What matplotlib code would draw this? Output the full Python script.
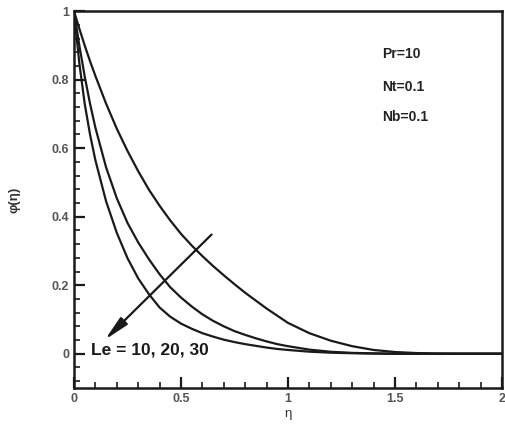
import numpy as np
from matplotlib import pyplot as plt
from matplotlib.ticker import MultipleLocator, FormatStrFormatter

plt.rcParams['font.family'] = ['Liberation Sans', 'DejaVu Sans']

# values
eta = [0, 0.025, 0.05, 0.075, 0.1, 0.15, 0.2, 0.25, 0.3, 0.35, 0.4, 0.45, 0.5, 0.55, 0.6,
       0.65, 0.7, 0.75, 0.8, 0.85, 0.9, 0.95, 1.0, 1.1, 1.2, 1.3, 1.4, 1.5, 1.6, 1.7, 1.8, 2.0]

phi_le10 = [1, 0.949, 0.900, 0.854, 0.811, 0.730, 0.657, 0.592, 0.533, 0.479, 0.432, 0.389,
            0.350, 0.316, 0.285, 0.256, 0.229, 0.203, 0.178, 0.155, 0.132, 0.111, 0.090,
            0.060, 0.038, 0.022, 0.011, 0.005, 0.002, 0.0005, 0, 0]

phi_le20 = [1, 0.900, 0.810, 0.730, 0.660, 0.544, 0.454, 0.382, 0.325, 0.276, 0.232, 0.194,
            0.164, 0.138, 0.115, 0.096, 0.080, 0.066, 0.055, 0.045, 0.036, 0.028, 0.022,
            0.012, 0.0057, 0.0025, 0.001, 0, 0, 0, 0, 0]

phi_le30 = [1, 0.848, 0.730, 0.640, 0.565, 0.445, 0.353, 0.279, 0.220, 0.174, 0.135, 0.108,
            0.088, 0.073, 0.060, 0.050, 0.041, 0.034, 0.028, 0.023, 0.018, 0.014, 0.011,
            0.006, 0.003, 0.0015, 0.0005, 0, 0, 0, 0, 0]

fig = plt.figure(figsize=(5.05, 4.29), dpi=100)
ax = fig.add_axes([0.1465, 0.0956, 0.8475, 0.8784])

for phi in [phi_le10, phi_le20, phi_le30]:
    ax.plot(eta, phi, color='#1a1a1a', lw=1.6)

ax.set_xlim(0, 2)
ax.set_ylim(-0.1, 1)
ax.xaxis.set_major_locator(MultipleLocator(0.5))
ax.xaxis.set_minor_locator(MultipleLocator(0.1))
ax.yaxis.set_major_locator(MultipleLocator(0.2))
ax.yaxis.set_minor_locator(MultipleLocator(0.04))
ax.xaxis.set_major_formatter(FormatStrFormatter('%g'))
ax.yaxis.set_major_formatter(FormatStrFormatter('%g'))
ax.tick_params(which='both', direction='in', top=False, right=False, colors='#1a1a1a',
               labelcolor='#555555', labelsize=9)
ax.tick_params(which='major', length=8, width=1.6)
ax.tick_params(which='minor', length=4, width=1.2)
for lbl in ax.get_xticklabels() + ax.get_yticklabels():
    lbl.set_fontweight('bold')
for sp in ax.spines.values():
    sp.set_linewidth(1.8)
    sp.set_color('#1a1a1a')

ax.set_xlabel('η', fontsize=9.5, color='#333333', labelpad=2)
ax.set_ylabel('φ(η)', fontsize=9.5, color='#333333', fontweight='bold', labelpad=22)

ax.annotate('', xy=(0.145, 0.041), xytext=(0.643, 0.348),
            arrowprops=dict(arrowstyle='-|>,head_length=1.5,head_width=0.3',
                            color='#1a1a1a', lw=1.6, shrinkA=0, shrinkB=0))
ax.text(0.08, 0.012, 'Le = 10, 20, 30', fontsize=12.5, fontweight='bold',
        color='#1a1a1a', va='center', ha='left')

ax.text(1.44, 0.874, 'Pr=10', fontsize=10, fontweight='bold', color='#222222', va='center')
ax.text(1.44, 0.778, 'Nt=0.1', fontsize=10, fontweight='bold', color='#222222', va='center')
ax.text(1.44, 0.69, 'Nb=0.1', fontsize=10, fontweight='bold', color='#222222', va='center')

fig.savefig('out.png', dpi=100)
